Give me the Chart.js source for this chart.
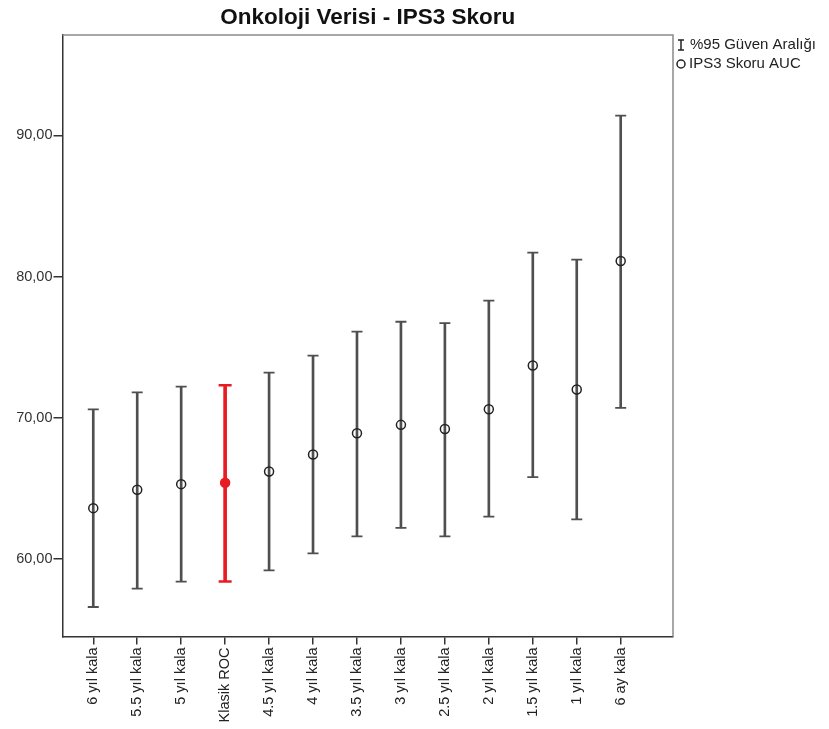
<!DOCTYPE html>
<html>
<head>
<meta charset="utf-8">
<script src="https://cdn.jsdelivr.net/npm/chart.js@4.4.1/dist/chart.umd.min.js"></script>
<style>
  body { margin: 0; background: #fff; }
</style>
</head>
<body>
<canvas id="myChart" width="829" height="729"></canvas>
<script>
// Categories, left to right
const labels = ['6 yıl kala', '5.5 yıl kala', '5 yıl kala', 'Klasik ROC', '4.5 yıl kala', '4 yıl kala',
  '3.5 yıl kala', '3 yıl kala', '2.5 yıl kala', '2 yıl kala', '1.5 yıl kala', '1 yıl kala', '6 ay kala'];

// IPS3 score AUC and its 95% confidence interval
const auc = [63.6, 64.9, 65.3, 65.4, 66.2, 67.4, 68.9, 69.5, 69.2, 70.6, 73.7, 72.0, 81.1];
const lower = [56.6, 57.9, 58.4, 58.4, 59.2, 60.4, 61.6, 62.2, 61.6, 63.0, 65.8, 62.8, 70.7];
const upper = [70.6, 71.8, 72.2, 72.3, 73.2, 74.4, 76.1, 76.8, 76.7, 78.3, 81.7, 81.2, 91.4];

const yTicks = [60, 70, 80, 90];
const highlight = 'Klasik ROC';

const grey = '#4f4f4f';
const red = '#e81b23';
const isRed = (i) => labels[i] === highlight;

const intervals = labels.map((l, i) => ({ x: i, y: [lower[i], upper[i]] }));

const font = { family: 'Liberation Sans, Arial, sans-serif', size: 14.5 };

// Frame around the plot and the legend at the right.
const framePlugin = {
  id: 'frame',
  afterDraw(chart) {
    const { ctx, chartArea: a } = chart;
    ctx.save();
    ctx.lineWidth = 1.5;
    ctx.strokeStyle = '#8a8a8a';
    ctx.beginPath();
    ctx.moveTo(a.left, a.top);
    ctx.lineTo(a.right, a.top);
    ctx.lineTo(a.right, a.bottom);
    ctx.stroke();

    // legend
    const lx = 681;
    ctx.strokeStyle = '#222';
    ctx.lineWidth = 1.5;
    ctx.beginPath();
    ctx.moveTo(lx - 3, 40); ctx.lineTo(lx + 3, 40);
    ctx.moveTo(lx, 40); ctx.lineTo(lx, 50);
    ctx.moveTo(lx - 3, 50); ctx.lineTo(lx + 3, 50);
    ctx.stroke();
    ctx.beginPath();
    ctx.arc(lx, 64, 4, 0, Math.PI * 2);
    ctx.stroke();

    ctx.fillStyle = '#222';
    ctx.font = '15px Liberation Sans, Arial, sans-serif';
    ctx.textBaseline = 'middle';
    ctx.textAlign = 'left';
    ctx.fillText('%95 Güven Aralığı', 690, 45);
    ctx.fillText('IPS3 Skoru AUC', 689, 64);
    ctx.restore();
  }
};

const data = {
  datasets: [
    {
      type: 'bar',
      label: 'grey',
      data: intervals.map((d, i) => (isRed(i) ? { x: i, y: null } : d)),
      backgroundColor: grey,
      barThickness: 2,
      grouped: false,
      order: 3,
    },
    {
      type: 'bar',
      label: 'red',
      data: intervals.map((d, i) => (isRed(i) ? d : { x: i, y: null })),
      backgroundColor: red,
      barThickness: 3,
      grouped: false,
      order: 3,
    },
    {
      type: 'scatter',
      label: 'upper',
      data: upper.map((v, i) => ({ x: i, y: v })),
      pointStyle: 'line',
      pointRadius: (c) => (isRed(c.dataIndex) ? 6.5 : 5.5),
      pointBorderWidth: (c) => (isRed(c.dataIndex) ? 2.5 : 1.8),
      pointBorderColor: (c) => (isRed(c.dataIndex) ? red : grey),
      order: 2,
    },
    {
      type: 'scatter',
      label: 'lower',
      data: lower.map((v, i) => ({ x: i, y: v })),
      pointStyle: 'line',
      pointRadius: (c) => (isRed(c.dataIndex) ? 6.5 : 5.5),
      pointBorderWidth: (c) => (isRed(c.dataIndex) ? 2.5 : 1.8),
      pointBorderColor: (c) => (isRed(c.dataIndex) ? red : grey),
      order: 2,
    },
    {
      type: 'scatter',
      label: 'IPS3 Skoru AUC',
      data: auc.map((v, i) => ({ x: i, y: v })),
      pointStyle: 'circle',
      pointRadius: 4.5,
      pointBorderWidth: 1.5,
      pointBorderColor: (c) => (isRed(c.dataIndex) ? red : '#222'),
      pointBackgroundColor: (c) => (isRed(c.dataIndex) ? red : 'rgba(0,0,0,0)'),
      order: 1,
    },
  ],
};

const config = {
  type: 'bar',
  data: data,
  plugins: [framePlugin],
  options: {
    responsive: false,
    animation: false,
    devicePixelRatio: 1,
    layout: { padding: { left: 0, right: 156, top: 0, bottom: 0 } },
    plugins: {
      legend: { display: false },
      tooltip: { enabled: false },
      title: {
        display: true,
        text: 'Onkoloji Verisi - IPS3 Skoru',
        fullSize: false,
        color: '#111',
        font: { family: 'Liberation Sans, Arial, sans-serif', size: 22.5, weight: 'bold', lineHeight: 1.2 },
        padding: { top: 4, bottom: 4 },
      },
    },
    scales: {
      x: {
        type: 'linear',
        offset: false,
        min: -0.7,
        max: 13.19,
        afterBuildTicks: (scale) => {
          scale.ticks = labels.map((l, i) => ({ value: i }));
        },
        afterFit: (scale) => {
          scale.height = 92.5;
        },
        ticks: {
          autoSkip: false,
          minRotation: 90,
          maxRotation: 90,
          padding: 3,
          color: '#222',
          font: font,
          callback: (v) => labels[v],
        },
        grid: {
          offset: false,
          drawOnChartArea: false,
          drawTicks: true,
          tickLength: 8,
          color: '#333',
          lineWidth: 1.5,
        },
        border: { display: true, color: '#333', width: 1.5 },
      },
      y: {
        min: 54.51,
        max: 97.11,
        afterBuildTicks: (scale) => {
          scale.ticks = yTicks.map((v) => ({ value: v }));
        },
        afterFit: (scale) => {
          scale.width = 62.5;
        },
        ticks: {
          padding: 1,
          color: '#333',
          font: font,
          callback: (v) => v.toFixed(2).replace('.', ','),
        },
        grid: {
          drawOnChartArea: false,
          drawTicks: true,
          tickLength: 9,
          color: '#333',
          lineWidth: 1.5,
        },
        border: { display: true, color: '#333', width: 1.5 },
      },
    },
  },
};

const myChart = new Chart(document.getElementById('myChart'), config);
</script>
</body>
</html>
